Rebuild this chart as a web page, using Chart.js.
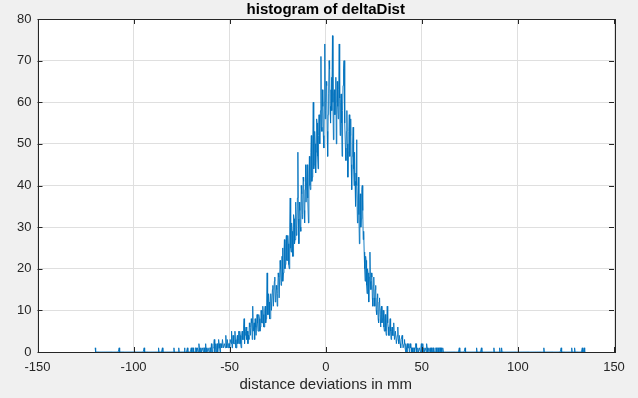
<!DOCTYPE html>
<html>
<head>
<meta charset="utf-8">
<script src="https://cdn.jsdelivr.net/npm/chart.js@4/dist/chart.umd.min.js"></script>
<style>
  html, body { margin: 0; padding: 0; background: #f0f0f0; }
  #wrap { width: 638px; height: 398px; }
</style>
</head>
<body>
<div id="wrap"><canvas id="myChart" width="638" height="398"></canvas></div>
<script>
// histogram bins (mm)
const binStart = -120;
const binEnd = 134.75;
const binWidth = 0.25;

// lone single counts out in the tails
const leftTail = [-120, -107.5, -94.5, -87, -85, -79, -76.5, -73.5, -72];
const rightTail = [69.5, 72.5, 78.5, 81, 87.5, 90.5, 91.5, 113.5, 122.5, 128, 129.5, 133.5, 134.5];

// dense part, one row = 5 mm (20 bins), starting at -70
const coreStart = -70;
const core = [
  1,0,0,1,1,0,0,0,0,1,1,0,0,1,1,0,2,1,0,0,          // -70
  1,0,0,1,1,0,1,1,0,0,2,0,1,0,0,1,1,0,0,1,          // -65
  1,0,2,1,0,1,1,2,3,0,1,2,0,1,2,0,1,3,2,1,          // -60
  0,2,2,1,1,3,3,1,1,2,2,1,4,2,1,3,3,1,2,2,          // -55
  1,3,3,2,5,1,2,4,4,2,2,5,3,1,1,3,4,2,3,5,          // -50
  2,5,4,2,1,4,5,3,3,6,8,2,4,5,6,3,3,5,2,4,          // -45
  3,7,6,4,4,8,7,3,11,5,5,7,3,8,6,4,4,9,7,5,         // -40
  5,9,8,5,6,10,10,7,7,11,9,6,6,10,11,7,8,12,19,9,   // -35
  9,14,12,8,8,13,14,10,10,15,16,11,11,17,18,12,13,16,15,11,   // -30
  14,19,18,13,13,22,20,16,17,23,25,17,19,24,27,20,21,26,28,22, // -25
  22,28,26,21,20,30,37,25,24,31,29,23,23,33,32,26,27,36,35,28, // -20
  30,37,48,32,26,36,34,30,29,40,38,32,33,42,41,34,31,39,45,36, // -15
  36,45,44,37,31,42,47,40,39,48,52,41,42,50,60,44,45,53,50,43, // -10
  48,56,55,47,44,52,57,51,50,58,71,54,53,63,59,52,49,60,74,56, // -5
  58,65,64,53,47,57,62,70,68,59,55,63,66,58,76,60,51,62,63,57, // 0
  60,66,50,57,65,59,56,63,74,61,52,60,62,55,47,58,64,68,70,56, // 5
  55,49,46,53,58,50,42,48,53,57,47,52,56,45,39,47,50,54,44,40, // 10
  48,41,35,43,51,40,31,37,42,33,26,36,38,30,32,39,40,34,27,29, // 15
  24,20,17,23,22,16,14,20,19,13,12,18,24,17,15,19,18,13,11,16, // 20
  18,13,11,15,16,10,9,13,14,8,7,12,13,9,6,10,11,7,8,10,        // 25
  10,6,5,8,9,5,4,7,11,7,6,4,4,6,8,5,3,5,6,4,        // 30
  4,5,7,3,3,5,5,2,2,4,6,3,2,4,4,2,1,3,3,4,          // 35
  2,1,1,2,3,1,0,2,1,0,2,1,1,2,0,1,2,1,1,0,          // 40
  1,0,0,1,1,0,1,2,2,0,0,1,1,0,0,1,1,0,1,2,          // 45
  0,1,2,0,1,0,0,1,1,0,2,1,0,1,1,0,0,1,1,0,          // 50
  1,0,0,1,1,0,0,0,0,1,1,0,0,1,1,0,0,1,1,0,          // 55
  1,0,0,1,1,0,0,0                                    // 60
];

const xTicks = [-150, -100, -50, 0, 50, 100, 150];
const yTicks = [0, 10, 20, 30, 40, 50, 60, 70, 80];

const nBins = Math.round((binEnd - binStart) / binWidth) + 1;
const counts = new Array(nBins).fill(0);
leftTail.concat(rightTail).forEach((x) => {
  counts[Math.round((x - binStart) / binWidth)] = 1;
});
const coreIdx = Math.round((coreStart - binStart) / binWidth);
core.forEach((c, i) => { counts[coreIdx + i] = c; });

const points = counts.map((c, i) => ({ x: binStart + i * binWidth, y: c }));

const axisColor = "#262626";

// grey figure background, white axes, box and inward ticks like matlab
const matlabAxes = {
  id: "matlabAxes",
  beforeDraw(chart) {
    const c = chart.ctx;
    const a = chart.chartArea;
    c.save();
    c.fillStyle = "#f0f0f0";
    c.fillRect(0, 0, chart.width, chart.height);
    c.fillStyle = "#ffffff";
    c.fillRect(a.left, a.top, a.right - a.left, a.bottom - a.top);
    c.restore();
  },
  afterDraw(chart) {
    const c = chart.ctx;
    const a = chart.chartArea;
    const xs = chart.scales.x;
    const ys = chart.scales.y;
    const len = 5;
    c.save();
    c.strokeStyle = axisColor;
    c.lineWidth = 1;
    c.beginPath();
    xTicks.forEach((t) => {
      const px = Math.round(xs.getPixelForValue(t)) + 0.5;
      c.moveTo(px, a.bottom);
      c.lineTo(px, a.bottom - len);
      c.moveTo(px, a.top);
      c.lineTo(px, a.top + len);
    });
    yTicks.forEach((t) => {
      const py = Math.round(ys.getPixelForValue(t)) + 0.5;
      c.moveTo(a.left, py);
      c.lineTo(a.left + len, py);
      c.moveTo(a.right, py);
      c.lineTo(a.right - len, py);
    });
    c.stroke();
    c.strokeRect(Math.round(a.left) + 0.5, Math.round(a.top) + 0.5,
      Math.round(a.right - a.left), Math.round(a.bottom - a.top));
    c.restore();
  },
};

const ctx = document.getElementById("myChart").getContext("2d");

const config = {
  type: "line",
  data: {
    datasets: [
      {
        label: "deltaDist",
        data: points,
        borderColor: "#0072bd",
        borderWidth: 0.9,
        pointRadius: 0,
        tension: 0,
        fill: false,
      },
    ],
  },
  options: {
    responsive: false,
    animation: false,
    layout: { padding: { left: 0, right: 24, top: 0, bottom: 0 } },
    plugins: {
      legend: { display: false },
      tooltip: { enabled: false },
      title: {
        display: true,
        text: "histogram of deltaDist",
        fullSize: false,
        color: "#000000",
        font: { family: "Liberation Sans, Arial, sans-serif", size: 15, weight: "bold", lineHeight: 1.2 },
        padding: { top: 1, bottom: 0 },
      },
    },
    scales: {
      x: {
        type: "linear",
        min: -150,
        max: 150,
        afterBuildTicks: (s) => { s.ticks = xTicks.map((v) => ({ value: v })); },
        afterFit: (s) => { s.height = 46; },
        grid: { color: "#dfdfdf", drawTicks: false },
        border: { display: false },
        ticks: {
          color: axisColor,
          padding: 8,
          maxRotation: 0,
          font: { family: "Liberation Sans, Arial, sans-serif", size: 13 },
        },
        title: {
          display: true,
          text: "distance deviations in mm",
          color: axisColor,
          font: { family: "Liberation Sans, Arial, sans-serif", size: 15, lineHeight: 1.2 },
          padding: { top: 0, bottom: 4 },
        },
      },
      y: {
        min: 0,
        max: 80,
        afterBuildTicks: (s) => { s.ticks = yTicks.map((v) => ({ value: v })); },
        afterFit: (s) => { s.width = 37.5; },
        grid: { color: "#dfdfdf", drawTicks: false },
        border: { display: false },
        ticks: {
          color: axisColor,
          padding: 6,
          font: { family: "Liberation Sans, Arial, sans-serif", size: 13 },
        },
      },
    },
  },
  plugins: [matlabAxes],
};

const myChart = new Chart(ctx, config);
</script>
</body>
</html>
